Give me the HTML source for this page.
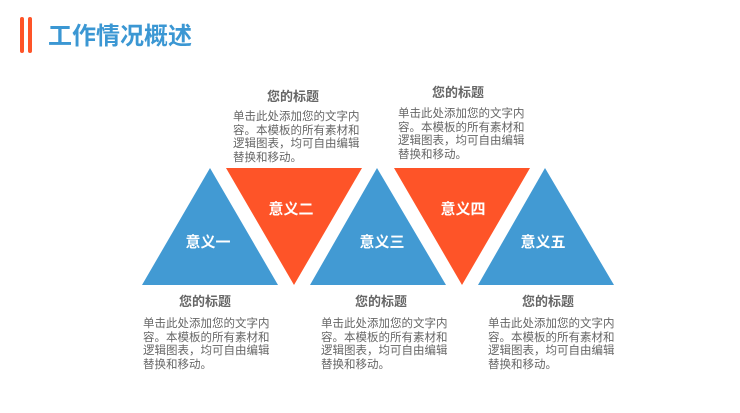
<!DOCTYPE html><html><head><meta charset="utf-8"><style>
body{margin:0;width:740px;height:413px;background:#fff;position:relative;overflow:hidden;font-family:"Liberation Sans","Noto Sans CJK SC",sans-serif}
.a{position:absolute}
.t{position:absolute;font-size:13px;font-weight:bold;color:#666;text-align:center;width:130px}
.p{position:absolute;font-size:11.5px;line-height:13.5px;color:#666;width:129px;word-break:break-all}
.l{position:absolute;font-size:15px;font-weight:bold;color:#fff;width:80px;text-align:center;line-height:20px}
</style></head><body>
<div class="a" style="left:20px;top:17px;width:4px;height:36px;background:#fe5428;border-radius:2px"></div>
<div class="a" style="left:28px;top:17px;width:4px;height:36px;background:#fe5428;border-radius:2px"></div>
<div class="a" style="left:48px;top:21px;font-size:24px;font-weight:bold;color:#3b97d3;line-height:32px">工作情况概述</div>
<svg class="a" style="left:0;top:0" width="740" height="413">
<polygon points="210,168 278,285 142,285" fill="#429ad3"/>
<polygon points="226,168 362,168 294,285" fill="#fe5428"/>
<polygon points="377,168 446,285 310,285" fill="#429ad3"/>
<polygon points="394,168 530,168 462,285" fill="#fe5428"/>
<polygon points="545,168 614,285 478,285" fill="#429ad3"/>
</svg>
<div class="l" style="left:168px;top:233px">意义一</div>
<div class="l" style="left:251px;top:200px">意义二</div>
<div class="l" style="left:342px;top:233px">意义三</div>
<div class="l" style="left:423px;top:200px">意义四</div>
<div class="l" style="left:503px;top:233px">意义五</div>
<div class="t" style="left:228px;top:86px">您的标题</div>
<div class="p" style="left:233px;top:111px">单击此处添加您的文字内容。本模板的所有素材和逻辑图表，均可自由编辑替换和移动。</div>
<div class="t" style="left:393px;top:82px">您的标题</div>
<div class="p" style="left:398px;top:108px">单击此处添加您的文字内容。本模板的所有素材和逻辑图表，均可自由编辑替换和移动。</div>
<div class="t" style="left:140px;top:291px">您的标题</div>
<div class="p" style="left:143px;top:318px">单击此处添加您的文字内容。本模板的所有素材和逻辑图表，均可自由编辑替换和移动。</div>
<div class="t" style="left:316px;top:291px">您的标题</div>
<div class="p" style="left:321px;top:318px">单击此处添加您的文字内容。本模板的所有素材和逻辑图表，均可自由编辑替换和移动。</div>
<div class="t" style="left:483px;top:291px">您的标题</div>
<div class="p" style="left:488px;top:318px">单击此处添加您的文字内容。本模板的所有素材和逻辑图表，均可自由编辑替换和移动。</div>
</body></html>
